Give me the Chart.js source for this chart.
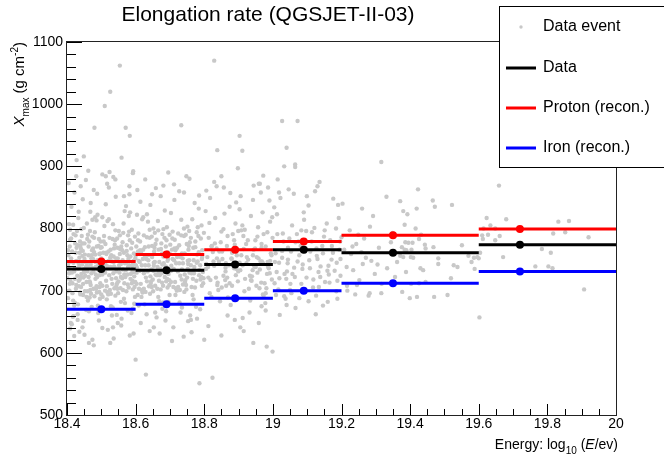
<!DOCTYPE html>
<html>
<head>
<meta charset="utf-8">
<script src="https://cdn.jsdelivr.net/npm/chart.js@4.4.1/dist/chart.umd.min.js"></script>
<style>
  html, body { margin: 0; padding: 0; background: #fff; }
  #wrap { width: 664px; height: 463px; }
</style>
</head>
<body>
<div id="wrap"><canvas id="elongChart" width="664" height="463"></canvas></div>
<script>
// energy bins (log10 E/eV) and bin centres used for the markers
const binEdges = [18.4, 18.6, 18.8, 19.0, 19.2, 19.6, 20.0];
const binCenters = [18.50, 18.69, 18.89, 19.09, 19.35, 19.72];

// mean Xmax per bin (g/cm2)
const dataXmax = [735, 733, 742, 766, 761, 774];
const protonXmax = [747, 758, 766, 779, 789, 799];
const ironXmax = [670, 678, 688, 700, 712, 731];

// tick labels
const xTicks = [18.4, 18.6, 18.8, 19, 19.2, 19.4, 19.6, 19.8, 20];
const yTicks = [500, 600, 700, 800, 900, 1000, 1100];

// individual events [log10 E, Xmax]
const events184 = [
  [18.412,752],[18.437,718],[18.451,776],[18.468,701],[18.493,739],[18.403,688],[18.426,761],[18.459,731],[18.481,794],[18.497,712],
  [18.418,806],[18.433,745],[18.447,693],[18.476,768],[18.488,722],[18.409,782],[18.441,706],[18.463,757],[18.472,674],[18.499,749],
  [18.406,728],[18.429,796],[18.444,742],[18.461,684],[18.486,813],[18.415,763],[18.438,697],[18.453,724],[18.479,785],[18.491,664],
  [18.421,676],[18.434,827],[18.456,735],[18.471,752],[18.494,698],[18.402,741],[18.443,788],[18.466,715],[18.483,746],[18.498,779],
  [18.408,771],[18.427,709],[18.449,801],[18.462,738],[18.484,726],[18.417,658],[18.439,772],[18.457,690],[18.474,814],[18.492,733],
  [18.413,835],[18.446,847],[18.469,841],[18.431,662],[18.464,667],[18.489,822],[18.423,719],[18.452,758],[18.477,703],[18.404,744],
  [18.419,791],[18.442,727],[18.473,765],[18.436,753],[18.467,796],[18.496,687],[18.424,680],[18.458,808],[18.482,758],[18.407,700],
  [18.422,858],[18.478,862],[18.448,651],[18.411,648],[18.471,728],[18.441,767],[18.432,736],[18.465,779],[18.487,771],[18.495,725],
  [18.405,735],[18.416,712],[18.428,769],[18.439,694],[18.451,751],[18.463,722],[18.474,787],[18.486,707],[18.497,760],[18.409,798],
  [18.421,731],[18.432,678],[18.445,756],[18.457,714],[18.469,743],[18.480,691],[18.492,772],[18.401,720],[18.413,747],[18.426,703],
  [18.438,779],[18.449,734],[18.460,699],[18.472,757],[18.484,738],[18.495,706],[18.403,765],[18.418,684],[18.430,724],[18.442,799],
  [18.454,746],[18.466,689],[18.477,731],[18.489,749],[18.500,694],[18.410,717],[18.424,776],[18.436,740],[18.447,711],[18.459,783],
  [18.470,695],[18.482,818],[18.494,759],[18.406,807],[18.419,659],[18.433,817],[18.456,669],[18.468,827],[18.490,676],[18.450,730],
  [18.404,757],[18.414,729],[18.425,789],[18.435,707],[18.446,764],[18.455,738],[18.467,713],[18.476,751],[18.487,697],[18.498,769],
  [18.408,711],[18.419,745],[18.431,773],[18.440,722],[18.452,699],[18.461,790],[18.473,737],[18.483,719],[18.493,783],[18.401,699],
  [18.412,784],[18.423,736],[18.434,716],[18.445,776],[18.458,744],[18.469,709],[18.479,762],[18.491,741],[18.499,730],[18.427,748],
  [18.416,696],[18.448,721],[18.463,771],[18.485,703],[18.437,761]
];
const events185 = [
  [18.508,744],[18.532,711],[18.547,769],[18.571,733],[18.589,798],[18.516,686],[18.543,752],[18.561,720],[18.583,781],[18.597,706],
  [18.503,818],[18.527,738],[18.549,696],[18.566,761],[18.586,727],[18.512,775],[18.538,704],[18.554,789],[18.577,668],[18.594,748],
  [18.511,729],[18.534,807],[18.552,741],[18.569,680],[18.591,716],[18.521,763],[18.541,692],[18.563,734],[18.579,751],[18.598,787],
  [18.506,761],[18.528,675],[18.546,784],[18.567,712],[18.584,826],[18.517,698],[18.536,746],[18.557,722],[18.574,773],[18.592,702],
  [18.513,839],[18.542,851],[18.572,836],[18.531,660],[18.559,655],[18.588,664],[18.523,725],[18.551,796],[18.581,741],[18.501,770],
  [18.518,812],[18.544,731],[18.576,757],[18.537,768],[18.564,793],[18.596,679],[18.526,753],[18.556,704],[18.587,768],[18.504,690],
  [18.522,866],[18.582,855],[18.548,648],[18.514,716],[18.573,745],[18.539,774],[18.529,757],[18.562,749],[18.593,730],[18.599,752],
  [18.505,733],[18.516,707],[18.527,766],[18.539,737],[18.550,715],[18.562,778],[18.573,699],[18.585,755],[18.596,723],[18.508,788],
  [18.520,694],[18.531,747],[18.543,720],[18.554,759],[18.566,687],[18.578,738],[18.589,712],[18.500,752],[18.512,742],[18.524,785],
  [18.535,728],[18.547,703],[18.558,771],[18.570,722],[18.581,795],[18.593,744],[18.503,708],[18.515,759],[18.528,695],[18.540,781],
  [18.552,736],[18.565,808],[18.577,710],[18.590,777],[18.598,690],[18.509,804],[18.533,673],[18.557,682],[18.580,820],[18.522,815],
  [18.545,661],[18.568,828],[18.592,671],[18.537,739],[18.561,765],
  [18.503,726],[18.514,761],[18.525,701],[18.536,755],[18.546,712],[18.557,743],[18.567,726],[18.578,789],[18.590,740],[18.599,714],
  [18.507,779],[18.518,739],[18.530,719],[18.541,797],[18.553,729],[18.563,701],[18.574,764],[18.585,719],[18.595,760],[18.511,700],
  [18.521,748],[18.533,783],[18.544,708],[18.555,767],[18.569,744],[18.580,705],[18.591,731],[18.502,739],[18.548,752],[18.576,726]
];
const events186 = [
  [18.609,748],[18.633,715],[18.648,772],[18.672,735],[18.691,802],[18.617,690],[18.644,757],[18.662,725],[18.684,785],[18.698,709],
  [18.604,822],[18.628,741],[18.651,699],[18.667,766],[18.687,730],[18.613,779],[18.639,707],[18.656,793],[18.678,671],[18.695,751],
  [18.612,732],[18.636,811],[18.653,745],[18.669,683],[18.692,719],[18.622,766],[18.642,695],[18.664,738],[18.681,755],[18.699,790],
  [18.607,763],[18.626,678],[18.647,787],[18.668,716],[18.685,829],[18.618,701],[18.637,749],[18.658,726],[18.675,776],[18.693,705],
  [18.614,843],[18.643,838],[18.673,852],[18.632,662],[18.661,657],[18.689,667],[18.624,728],[18.652,800],[18.682,744],[18.602,771],
  [18.619,815],[18.646,734],[18.677,760],[18.638,771],[18.666,797],[18.696,682],[18.627,756],[18.657,708],[18.688,771],[18.606,693],
  [18.604,737],[18.615,711],[18.627,770],[18.638,741],[18.650,718],[18.661,782],[18.673,702],[18.684,759],[18.696,727],[18.608,792],
  [18.620,697],[18.631,751],[18.643,723],[18.654,763],[18.666,690],[18.678,742],[18.689,715],[18.600,756],[18.612,746],[18.624,789],
  [18.635,731],[18.647,706],[18.658,775],[18.670,725],[18.681,799],[18.693,748],[18.603,711],[18.616,762],[18.629,698],[18.641,785],
  [18.653,740],[18.665,812],[18.677,713],[18.690,781],[18.699,693],[18.609,676],[18.633,823],[18.657,665],[18.680,681],[18.622,818],
  [18.603,729],[18.613,765],[18.624,703],[18.635,757],[18.645,715],[18.656,746],[18.667,729],[18.678,791],[18.688,739],[18.698,717],
  [18.607,781],[18.618,741],[18.630,721],[18.641,798],[18.652,732],[18.663,703],[18.674,767],[18.685,722],[18.694,762],[18.610,703],
  [18.621,751],[18.633,786],[18.644,711],[18.655,769],[18.669,746],[18.680,708],[18.691,733],[18.601,741],[18.648,754],[18.676,728]
];
const events187 = [
  [18.708,751],[18.734,718],[18.749,775],[18.771,738],[18.792,805],[18.716,693],[18.743,760],[18.763,728],[18.783,788],[18.797,712],
  [18.703,825],[18.727,744],[18.748,702],[18.768,769],[18.786,733],[18.714,782],[18.738,710],[18.756,796],[18.776,674],[18.794,754],
  [18.711,735],[18.733,814],[18.752,748],[18.769,686],[18.791,722],[18.721,769],[18.742,698],[18.761,741],[18.779,758],[18.799,793],
  [18.706,766],[18.728,681],[18.746,790],[18.767,719],[18.784,832],[18.717,704],[18.737,752],[18.757,729],[18.774,779],[18.793,708],
  [18.713,846],[18.741,858],[18.772,841],[18.731,665],[18.759,660],[18.788,670],[18.723,731],[18.751,803],[18.781,747],[18.701,774],
  [18.704,740],[18.715,714],[18.727,773],[18.738,744],[18.750,721],[18.761,785],[18.773,705],[18.784,762],[18.796,730],[18.708,795],
  [18.720,700],[18.731,754],[18.743,726],[18.754,766],[18.766,693],[18.778,745],[18.789,718],[18.700,759],[18.712,749],[18.724,792],
  [18.735,734],[18.747,709],[18.758,778],[18.770,728],[18.781,802],[18.793,751],[18.703,714],[18.716,765],[18.729,701],[18.741,788],
  [18.753,743],[18.765,815],[18.777,716],[18.790,784],[18.735,673],
  [18.703,732],[18.713,768],[18.724,706],[18.735,760],[18.745,717],[18.756,749],[18.767,732],[18.778,794],[18.788,741],[18.798,720],
  [18.707,784],[18.718,744],[18.730,724],[18.741,800],[18.752,735],[18.763,706],[18.774,770],[18.785,725],[18.794,765],[18.710,706],
  [18.721,754],[18.733,789],[18.744,714],[18.755,772],[18.769,749]
];
const events188 = [
  [18.809,754],[18.834,721],[18.848,778],[18.872,741],[18.891,808],[18.816,696],[18.844,763],[18.862,731],[18.883,791],[18.898,715],
  [18.804,828],[18.827,747],[18.851,705],[18.866,772],[18.887,736],[18.813,785],[18.839,713],[18.856,799],[18.877,677],[18.895,757],
  [18.811,738],[18.832,817],[18.853,751],[18.869,689],[18.892,725],[18.822,772],[18.841,701],[18.863,744],[18.881,761],[18.899,796],
  [18.817,849],[18.846,683],[18.874,835],[18.836,768],[18.864,708],[18.893,842],
  [18.908,757],[18.933,724],[18.949,781],[18.971,744],[18.992,811],[18.917,699],[18.944,766],[18.962,734],[18.984,794],[18.997,718],
  [18.903,831],[18.928,750],[18.952,708],[18.967,775],[18.986,739],[18.914,788],[18.938,716],[18.957,802],[18.978,680],[18.994,760],
  [18.912,741],[18.936,820],[18.953,754],[18.973,692],[18.991,728],[18.922,775],[18.942,846],[18.964,747],[18.981,704],[18.906,852],
  [18.806,743],[18.818,717],[18.831,776],[18.843,747],[18.856,724],[18.868,788],[18.881,708],[18.893,765],[18.905,733],[18.918,798],
  [18.930,703],[18.942,757],[18.955,729],[18.967,769],[18.979,696],[18.992,748],[18.812,721],[18.825,762],[18.837,752],[18.850,795],
  [18.862,737],[18.874,712],[18.887,781],[18.899,731],[18.911,805],[18.924,754],[18.936,717],[18.948,768],[18.961,704],[18.973,791],
  [18.985,746],[18.998,818],[18.821,690],[18.859,824],[18.896,686],[18.934,684],[18.970,826],[18.815,809],[18.880,751],[18.950,738],
  [18.805,735],[18.821,771],[18.838,709],[18.852,763],[18.867,721],[18.879,752],[18.894,735],[18.908,797],[18.923,744],[18.939,723],
  [18.955,787],[18.968,747],[18.983,727],[18.996,757],[18.829,740],[18.861,717],[18.915,767],[18.946,739],[18.889,774],[18.976,712],
  [18.903,745],[18.919,719],[18.927,781],[18.941,733],[18.958,752],[18.966,713],[18.979,771],[18.988,736],[18.999,785]
];
const events190 = [
  [19.008,760],[19.034,727],[19.048,784],[19.072,747],[19.091,814],[19.016,702],[19.044,769],[19.062,737],[19.083,797],[19.098,721],
  [19.004,834],[19.027,753],[19.051,711],[19.066,778],[19.087,742],[19.013,791],[19.039,719],[19.056,805],[19.077,688],[19.094,763],
  [19.022,849],[19.061,856],[19.081,772],[19.043,744],[19.011,730],
  [19.109,763],[19.133,730],[19.149,787],[19.171,750],[19.192,817],[19.117,705],[19.144,772],[19.162,740],[19.184,800],[19.197,724],
  [19.104,837],[19.128,756],[19.152,714],[19.167,781],[19.186,745],[19.114,794],[19.138,722],[19.157,808],[19.176,848],[19.194,766],
  [19.208,766],[19.234,733],[19.249,790],[19.271,753],[19.292,820],[19.216,708],[19.243,775],[19.262,743],[19.283,803],[19.297,727],
  [19.203,840],[19.228,759],[19.252,717],[19.266,784],[19.287,748],[19.224,797],
  [19.309,769],[19.333,736],[19.349,793],[19.371,756],[19.392,823],[19.317,711],[19.344,778],[19.362,746],[19.384,806],[19.331,851],
  [19.305,742],[19.356,722],
  [19.006,746],[19.019,720],[19.031,779],[19.044,750],[19.057,727],[19.070,791],[19.083,711],[19.096,768],[19.108,736],[19.121,801],
  [19.134,706],[19.146,760],[19.159,732],[19.172,772],[19.185,699],[19.197,751],[19.012,823],[19.050,701],[19.090,826],[19.130,751],
  [19.165,713],[19.200,786],[19.215,738],[19.232,771],[19.245,709],[19.258,762],[19.027,764],[19.077,757],[19.113,779],[19.180,732],
  [19.005,712],[19.018,745],[19.029,792],[19.041,731],[19.053,763],[19.064,722],[19.075,779],[19.086,735],[19.097,796],[19.106,749],
  [19.118,718],[19.127,768],[19.139,739],[19.151,797],[19.163,726],[19.175,761],[19.188,716],[19.196,779]
];
const eventsHigh = [
  [19.659,869],[19.423,863],[19.466,845],[19.472,835],[19.522,838],[19.371,844],[19.380,828],[19.419,832],[19.623,817],[19.680,815],
  [19.634,805],[19.648,800],[19.614,800],[19.832,811],[19.863,812],[19.817,792],[19.852,794],[19.920,786],[19.610,789],[19.627,790],
  [19.661,788],[19.648,781],[19.612,783],[19.784,767],[19.810,761],[19.671,754],[19.604,761],[19.600,752],[19.596,754],[19.765,739],
  [19.803,739],[19.815,736],[19.907,702],[19.602,657],[19.416,800],[19.432,790],[19.426,783],[19.407,777],[19.395,777],[19.386,778],
  [19.376,770],[19.384,766],[19.443,774],[19.445,768],[19.468,770],[19.551,773],[19.389,765],[19.404,766],[19.482,752],[19.409,753],
  [19.402,754],[19.380,754],[19.570,756],[19.586,753],[19.579,746],[19.527,741],[19.538,738],[19.482,743],[19.430,736],[19.438,733],
  [19.388,730],[19.403,711],[19.426,712],[19.445,714],[19.519,720],[19.588,735]
];
const eventsTails = [
  [18.554,1062],[18.829,1070],[18.526,1020],[18.510,997],[18.480,962],[18.571,962],[18.583,949],[18.733,966],[18.903,949],[18.838,926],
  [18.911,925],[18.449,916],[18.428,910],[18.559,914],[18.898,897],[18.503,887],[18.513,884],[18.524,891],[18.535,883],[18.592,889],
  [18.593,892],[18.695,890],[18.748,884],[18.829,875],[18.440,868],[18.582,868],[18.659,865],[18.836,868],[18.857,866],[18.959,872],
  [19.027,973],[19.072,973],[19.040,930],[19.033,900],[19.065,903],[19.065,899],[19.316,907],[18.972,885],[19.014,879],[18.962,872],
  [18.986,866],[19.046,863],[19.136,875],[19.130,868],
  [18.405,873],[18.427,884],[18.455,878],[18.462,893],[18.488,856],[18.517,872],[18.541,879],[18.566,852],[18.605,862],[18.628,879],
  [18.648,855],[18.681,869],[18.712,871],[18.727,860],[18.757,880],[18.785,853],[18.806,861],[18.850,884],[18.876,857],[18.944,869],
  [18.965,858],[18.990,845],[19.018,858],[19.099,852],[19.123,860],[19.190,838],[19.260,832],
  [18.600,589],[18.630,565],[18.786,551],[18.824,560],[18.706,619],[18.800,621],[18.943,616],[18.915,635],[18.763,633],[18.594,631],
  [18.536,623],[18.526,616],[18.478,612],[18.464,616],[18.474,621],[18.451,629],[18.436,634],[18.409,639],[18.670,631],[18.653,641],
  [18.889,653],[18.912,656],[18.753,651],[18.761,653],[18.431,653],[18.414,646],[18.534,641],[18.503,640],[18.982,610],[18.999,602],
  [19.125,662],[19.160,682],[19.040,677],[18.979,668],[18.967,675],[19.240,694],[19.282,696],[19.279,692],[19.316,696],[19.377,698],
  [19.399,688],[19.420,690],[19.470,690],[19.509,693],[19.037,687],[19.033,691],[19.054,696],[19.009,693],[18.971,694],[19.217,700],
  [19.126,692],
  [18.421,627],[18.445,641],[18.493,652],[18.519,637],[18.558,644],[18.583,628],[18.615,648],[18.641,635],[18.687,652],[18.710,641],
  [18.740,626],[18.779,655],[18.812,643],[18.850,628],[18.868,660],[18.905,641],[18.932,665],[18.959,648],[19.020,661],[19.066,672],
  [19.104,683],[19.146,676],[19.188,687]
];

const FONT = "'Liberation Sans', Arial, Helvetica, sans-serif";
const EVENT_GREY = '#c8c8c8';

const allEvents = [].concat(events184, events185, events186, events187, events188, events190, eventsHigh, eventsTails)
  .map(p => ({ x: p[0], y: p[1] }));

// horizontal bin bars: one segment per bin, broken by a null point
function binBars(values) {
  const pts = [];
  values.forEach((v, i) => {
    pts.push({ x: binEdges[i], y: v });
    pts.push({ x: binEdges[i + 1], y: v });
    pts.push({ x: binEdges[i + 1], y: null });
  });
  return pts;
}

function binMarkers(values) {
  return binCenters.map((c, i) => ({ x: c, y: values[i] }));
}

const series = [
  { label: 'Data', values: dataXmax, color: '#000000' },
  { label: 'Proton (recon.)', values: protonXmax, color: '#ff0000' },
  { label: 'Iron (recon.)', values: ironXmax, color: '#0000ff' }
];

const datasets = [];
series.forEach(s => {
  datasets.push({
    type: 'scatter', label: s.label + ' marker', data: binMarkers(s.values),
    pointRadius: 4, pointBackgroundColor: s.color, pointBorderColor: s.color, pointBorderWidth: 0, order: 0
  });
  datasets.push({
    type: 'line', label: s.label, data: binBars(s.values), borderColor: s.color, borderWidth: 3,
    pointRadius: 0, spanGaps: false, tension: 0, order: 1
  });
});
datasets.push({
  type: 'scatter', label: 'Data event', data: allEvents,
  pointRadius: 2.2, pointBackgroundColor: EVENT_GREY, pointBorderWidth: 0, order: 5
});

// draw a run of text pieces (normal / italic / sub / sup) starting at x
function drawPieces(ctx, pieces, x, y, size) {
  let cx = x;
  pieces.forEach(p => {
    const sz = p.sub || p.sup ? Math.round(size * 0.68) : size;
    ctx.font = (p.italic ? 'italic ' : '') + sz + 'px ' + FONT;
    const dy = p.sub ? size * 0.35 : (p.sup ? -size * 0.42 : 0);
    ctx.fillText(p.t, cx, y + dy);
    cx += ctx.measureText(p.t).width;
  });
  return cx - x;
}
function measurePieces(ctx, pieces, size) {
  let w = 0;
  pieces.forEach(p => {
    const sz = p.sub || p.sup ? Math.round(size * 0.68) : size;
    ctx.font = (p.italic ? 'italic ' : '') + sz + 'px ' + FONT;
    w += ctx.measureText(p.t).width;
  });
  return w;
}

const rootFramePlugin = {
  id: 'rootFrame',
  afterDatasetsDraw(chart) {
    const { ctx, chartArea: a, scales } = chart;
    ctx.save();
    ctx.strokeStyle = '#000';
    ctx.lineWidth = 1;
    // ticks inside the frame
    ctx.beginPath();
    for (let v = 500; v <= 1100; v += 20) {
      const py = Math.round(scales.y.getPixelForValue(v)) + 0.5;
      const len = v % 100 === 0 ? 15 : 9;
      ctx.moveTo(a.left, py);
      ctx.lineTo(a.left + len, py);
    }
    for (let i = 0; i <= 32; i++) {
      const v = 18.4 + i * 0.05;
      const px = Math.round(scales.x.getPixelForValue(v)) + 0.5;
      const len = i % 4 === 0 ? 11 : 6;
      ctx.moveTo(px, a.bottom);
      ctx.lineTo(px, a.bottom - len);
    }
    ctx.stroke();
    ctx.strokeStyle = '#222';
    ctx.strokeRect(Math.round(a.left) - 0.5, Math.round(a.top) - 0.5,
      Math.round(a.right - a.left) + 1, Math.round(a.bottom - a.top) + 1);
    ctx.restore();
  },
  afterDraw(chart) {
    const { ctx } = chart;
    ctx.save();
    ctx.fillStyle = '#000';
    ctx.textBaseline = 'middle';
    ctx.textAlign = 'center';
    ctx.font = '21px ' + FONT;
    ctx.fillText('Elongation rate (QGSJET-II-03)', 268, 15);

    // x axis title, right aligned
    ctx.textAlign = 'left';
    ctx.textBaseline = 'alphabetic';
    const xTitle = [{ t: 'Energy: log' }, { t: '10', sub: true }, { t: ' (' }, { t: 'E', italic: true }, { t: '/ev)' }];
    const xw = measurePieces(ctx, xTitle, 14);
    drawPieces(ctx, xTitle, 618 - xw, 449, 14);

    // y axis title, rotated, ending at the top of the frame
    const yTitle = [{ t: 'X', italic: true }, { t: 'max', sub: true }, { t: ' (g cm' }, { t: '-2', sup: true }, { t: ')' }];
    const yw = measurePieces(ctx, yTitle, 15);
    ctx.save();
    ctx.translate(24, 42 + yw);
    ctx.rotate(-Math.PI / 2);
    drawPieces(ctx, yTitle, 0, 0, 15);
    ctx.restore();

    // legend box
    ctx.fillStyle = '#fff';
    ctx.fillRect(499.5, 6.5, 200, 161);
    ctx.strokeStyle = '#000';
    ctx.lineWidth = 1;
    ctx.strokeRect(499.5, 6.5, 200, 161);
    const rows = [27, 68, 108, 148];
    ctx.fillStyle = EVENT_GREY;
    ctx.beginPath();
    ctx.arc(521, rows[0], 1.7, 0, Math.PI * 2);
    ctx.fill();
    series.forEach((s, i) => {
      ctx.strokeStyle = s.color;
      ctx.lineWidth = 3;
      ctx.beginPath();
      ctx.moveTo(506, rows[i + 1]);
      ctx.lineTo(536, rows[i + 1]);
      ctx.stroke();
    });
    ctx.fillStyle = '#000';
    ctx.font = '16px ' + FONT;
    ctx.textBaseline = 'middle';
    ctx.fillText('Data event', 543, rows[0]);
    series.forEach((s, i) => ctx.fillText(s.label, 543, rows[i + 1]));
    ctx.restore();
  }
};

const ctx = document.getElementById('elongChart').getContext('2d');
new Chart(ctx, {
  type: 'scatter',
  data: { datasets: datasets },
  options: {
    responsive: false,
    animation: false,
    devicePixelRatio: 1,
    layout: { padding: { top: 42, right: 48, left: 0, bottom: 0 } },
    plugins: { legend: { display: false }, tooltip: { enabled: false }, title: { display: false } },
    scales: {
      x: {
        type: 'linear', min: 18.4, max: 20,
        grid: { display: false, drawTicks: false }, border: { display: false },
        afterBuildTicks: s => { s.ticks = xTicks.map(v => ({ value: v })); },
        ticks: {
          padding: 1, color: '#000', maxRotation: 0, autoSkip: false,
          font: { family: FONT, size: 14 },
          callback: v => String(+Number(v).toFixed(1))
        },
        afterFit: s => { s.height = 48; }
      },
      y: {
        type: 'linear', min: 500, max: 1100,
        grid: { display: false, drawTicks: false }, border: { display: false },
        afterBuildTicks: s => { s.ticks = yTicks.map(v => ({ value: v })); },
        ticks: { padding: 4, color: '#000', font: { family: FONT, size: 14 }, callback: v => String(v) },
        afterFit: s => { s.width = 67; }
      }
    }
  },
  plugins: [rootFramePlugin]
});
</script>
</body>
</html>
